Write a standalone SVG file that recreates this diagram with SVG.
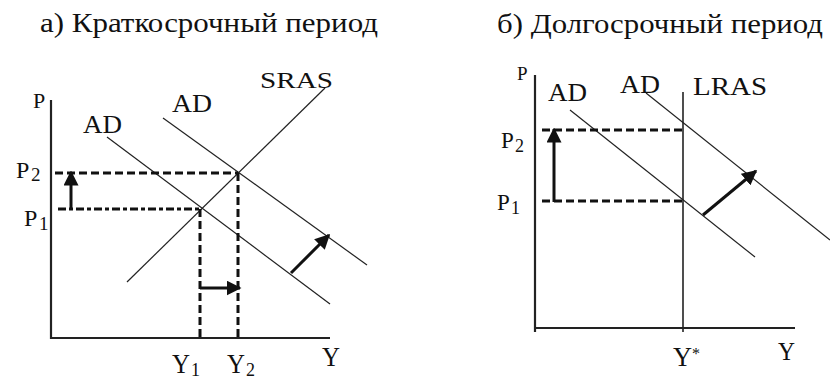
<svg xmlns="http://www.w3.org/2000/svg" width="830" height="381" viewBox="0 0 830 381" font-family="'Liberation Serif', 'DejaVu Serif', 'Times New Roman', serif">
<defs>
<style>
text{font-family:'Liberation Serif','DejaVu Serif','Times New Roman',serif;fill:#111}
.t{font-size:27px}
.ax{stroke:#222;stroke-width:2.2;fill:none}
.cv{stroke:#222;stroke-width:1.2;fill:none}
.ds{stroke:#111;stroke-width:3;fill:none;stroke-dasharray:8 4}
.dd{stroke:#111;stroke-width:3.2;fill:none;stroke-dasharray:8 3 4 3}
.ar{stroke:#111;stroke-width:3;fill:none}
</style>
<marker id="ah" viewBox="0 0 10 10" refX="9" refY="5" markerWidth="15" markerHeight="15" markerUnits="userSpaceOnUse" orient="auto">
<path d="M0,0 L10,5 L0,10 Z" fill="#111"/>
</marker>
</defs>
<rect width="830" height="381" fill="#fff"/>
<g id="titles">
<text class="t" x="40" y="32" textLength="338" lengthAdjust="spacingAndGlyphs">а) Краткосрочный период</text>
<text class="t" x="497" y="33" textLength="326" lengthAdjust="spacingAndGlyphs">б) Долгосрочный период</text>
</g>
<g id="left-panel">
<g id="left-axes">
<line class="ax" x1="51" y1="100" x2="51" y2="339"/>
<line class="ax" x1="50" y1="338" x2="330" y2="338"/>
<text x="33" y="108" style="font-size:22px">P</text>
<text x="322" y="366" style="font-size:27px" textLength="18" lengthAdjust="spacingAndGlyphs">Y</text>
</g>
<g id="left-curves">
<line class="cv" x1="107" y1="137" x2="330" y2="304"/>
<line class="cv" x1="163" y1="118" x2="367" y2="265"/>
<line class="cv" x1="127" y1="282" x2="325" y2="88"/>
<text x="83" y="133" style="font-size:26px" textLength="39" lengthAdjust="spacingAndGlyphs">AD</text>
<text x="172" y="112" style="font-size:26px" textLength="40" lengthAdjust="spacingAndGlyphs">AD</text>
<text x="260" y="88" style="font-size:23px" textLength="73" lengthAdjust="spacingAndGlyphs">SRAS</text>
</g>
<g id="left-guides">
<line class="ds" x1="55" y1="173" x2="238" y2="173"/>
<line class="dd" x1="58" y1="209" x2="200" y2="209"/>
<line class="ds" x1="200" y1="209" x2="200" y2="338"/>
<line class="ds" x1="238" y1="173" x2="238" y2="338"/>
<text x="16" y="178" style="font-size:24px">P</text>
<text x="31" y="181" style="font-size:19px">2</text>
<text x="24" y="226" style="font-size:24px">P</text>
<text x="39" y="230" style="font-size:19px">1</text>
<text x="172" y="373" style="font-size:27px" textLength="18" lengthAdjust="spacingAndGlyphs">Y</text>
<text x="191" y="376" style="font-size:18px">1</text>
<text x="227" y="373" style="font-size:27px" textLength="18" lengthAdjust="spacingAndGlyphs">Y</text>
<text x="246" y="376" style="font-size:18px">2</text>
</g>
<g id="left-arrows">
<line class="ar" x1="71" y1="210" x2="71" y2="172" marker-end="url(#ah)"/>
<line class="ar" x1="200" y1="288" x2="240" y2="288" marker-end="url(#ah)"/>
<line class="ar" x1="291" y1="273" x2="329" y2="235" marker-end="url(#ah)"/>
</g>
</g>
<g id="right-panel">
<g id="right-axes">
<line class="ax" x1="535" y1="75" x2="535" y2="332"/>
<line class="ax" x1="534" y1="328" x2="795" y2="328"/>
<text x="517" y="80" style="font-size:19px">P</text>
<text x="778" y="360" style="font-size:26px" textLength="17" lengthAdjust="spacingAndGlyphs">Y</text>
</g>
<g id="right-curves">
<line class="ax" x1="683" y1="92" x2="683" y2="332" style="stroke-width:1.6"/>
<line class="cv" x1="570" y1="110" x2="755" y2="257"/>
<line class="cv" x1="646" y1="93" x2="830" y2="240"/>
<text x="548" y="101" style="font-size:25px" textLength="39" lengthAdjust="spacingAndGlyphs">AD</text>
<text x="620" y="93" style="font-size:25px" textLength="40" lengthAdjust="spacingAndGlyphs">AD</text>
<text x="693" y="95" style="font-size:26px" textLength="74" lengthAdjust="spacingAndGlyphs">LRAS</text>
</g>
<g id="right-guides">
<line class="ds" x1="542" y1="130" x2="683" y2="130"/>
<line class="ds" x1="542" y1="201" x2="683" y2="201"/>
<text x="501" y="148" style="font-size:23px">P</text>
<text x="515" y="152" style="font-size:18px">2</text>
<text x="497" y="210" style="font-size:23px">P</text>
<text x="511" y="214" style="font-size:18px">1</text>
<text x="673" y="366" style="font-size:27px" textLength="19" lengthAdjust="spacingAndGlyphs">Y</text>
<text x="692" y="359" style="font-size:16px">*</text>
</g>
<g id="right-arrows">
<line class="ar" x1="554" y1="202" x2="554" y2="129" marker-end="url(#ah)"/>
<line class="ar" x1="703" y1="215" x2="756" y2="171" marker-end="url(#ah)"/>
</g>
</g>
</svg>
